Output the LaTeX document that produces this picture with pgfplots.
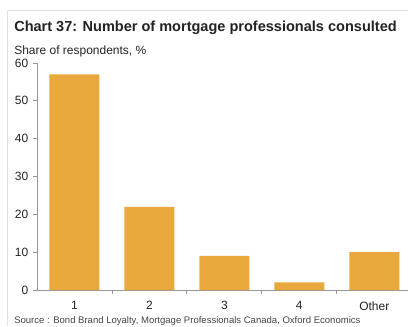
\documentclass[border=0pt]{standalone}
\usepackage{fontspec}
\setmainfont{Liberation Sans}
\usepackage{pgfplots}
\pgfplotsset{compat=1.18}
\definecolor{barorange}{RGB}{233,168,59}
\definecolor{axisgrey}{RGB}{150,150,150}
\definecolor{framegrey}{RGB}{225,225,225}
\definecolor{txt}{RGB}{35,35,35}
\begin{document}
\begin{tikzpicture}
\useasboundingbox (0,0) rectangle (306pt,244.5pt);
\draw[framegrey,line width=0.6pt] (5.25pt,0pt) -- (5.25pt,237pt) -- (306pt,237pt);
\node[anchor=base west,inner sep=0,text=txt,font=\bfseries\fontsize{10.9}{13}\selectfont] at (10.5pt,221.25pt) {Chart 37: Number of mortgage professionals consulted};
\node[anchor=base west,inner sep=0,text=txt,font=\fontsize{9}{11}\selectfont] at (10.5pt,204pt) {Share of respondents, \%};
\node[anchor=base west,inner sep=0,text=txt!85,font=\fontsize{7.15}{9}\selectfont] at (10.5pt,2.25pt) {Source : Bond Brand Loyalty, Mortgage Professionals Canada, Oxford Economics};
\begin{axis}[
  at={(27.75pt,27pt)}, anchor=south west,
  scale only axis, width=278.25pt, height=170.25pt,
  xmin=-0.5, xmax=4.45, ymin=0, ymax=60,
  axis lines*=left,
  axis line style={axisgrey,line width=0.6pt},
  ytick={0,10,...,60},
  xtick={0,1,2,3,4},
  xticklabels={1,2,3,4,Other},
  minor xtick={0.5,1.5,2.5,3.5},
  major x tick style={draw=none},
  minor x tick style={draw=axisgrey,line width=0.6pt},
  major y tick style={draw=axisgrey,line width=0.6pt},
  tick align=outside,
  major tick length=3pt, minor tick length=3pt,
  /pgf/number format/assume math mode=true,
  tick label style={font=\fontsize{9}{10}\selectfont,text=txt},
  xticklabel style={yshift=-2pt},
  clip=false,
]
\addplot[ybar, bar width=0.667, fill=barorange, draw=none] coordinates {(0,57) (1,22) (2,9) (3,2) (4,10)};
\end{axis}
\end{tikzpicture}
\end{document}
